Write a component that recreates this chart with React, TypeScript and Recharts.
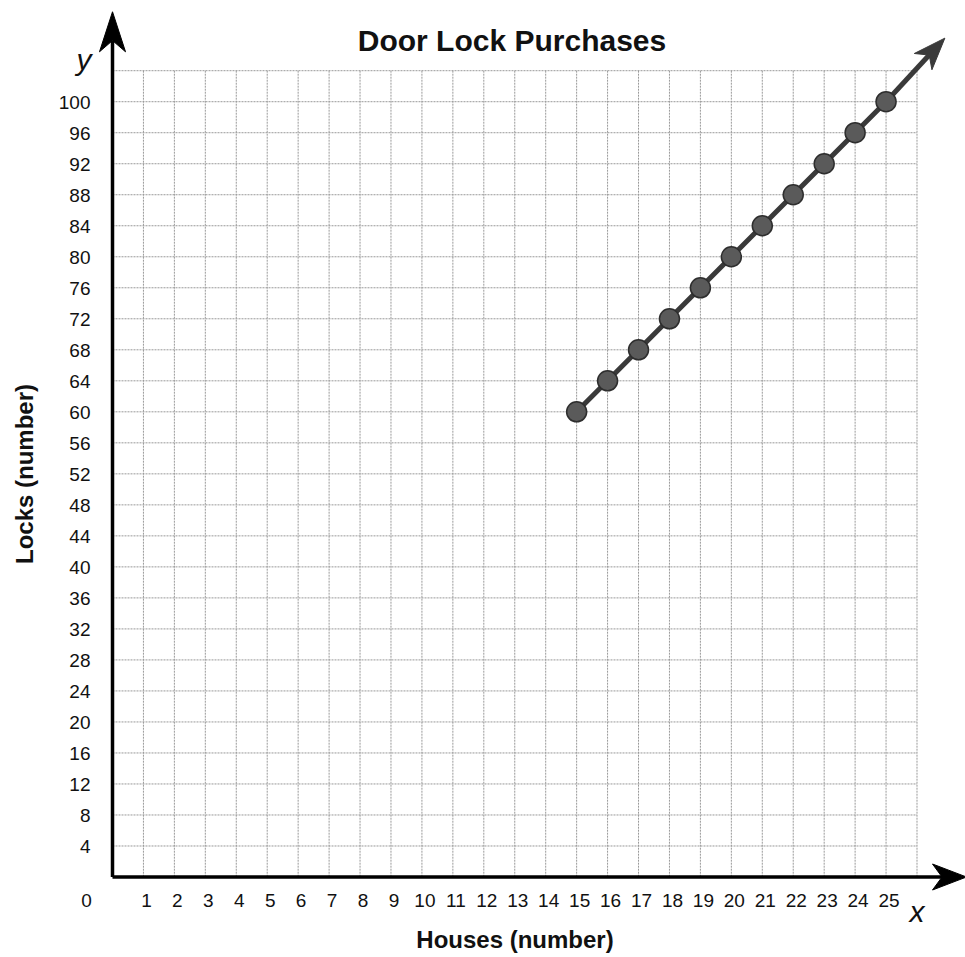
import React from 'react';
import { ComposedChart, Line, XAxis, YAxis, CartesianGrid, ReferenceLine, Customized } from 'recharts';

const houses = [15, 16, 17, 18, 19, 20, 21, 22, 23, 24, 25];
const locks = [60, 64, 68, 72, 76, 80, 84, 88, 92, 96, 100];
const xTicks = [0, 1, 2, 3, 4, 5, 6, 7, 8, 9, 10, 11, 12, 13, 14, 15, 16, 17, 18, 19, 20, 21, 22, 23, 24, 25, 26];
const yTicks = [0, 4, 8, 12, 16, 20, 24, 28, 32, 36, 40, 44, 48, 52, 56, 60, 64, 68, 72, 76, 80, 84, 88, 92, 96, 100, 104];
const hiddenXTicks = [26];
const hiddenYTicks = [0, 104];
const chartTitle = 'Door Lock Purchases';
const xAxisTitle = 'Houses (number)';
const yAxisTitle = 'Locks (number)';
const xVarName = 'x';
const yVarName = 'y';
const lineArrowEnd = { x: 26.9, y: 108.2 };
const xAxisEnd = 27.6;
const yAxisEnd = 111.6;

const data = houses.map((h, i) => ({ x: h, y: locks[i] }));

const FONT = '"Liberation Sans", Arial, Helvetica, sans-serif';

const arrowShape = (width: number, L: number, W: number, color: string) => (props: any) => {
  const { x1, y1, x2, y2 } = props;
  const dx = x2 - x1;
  const dy = y2 - y1;
  const len = Math.hypot(dx, dy) || 1;
  const ux = dx / len;
  const uy = dy / len;
  const nx = -uy;
  const ny = ux;
  const bx = x2 - ux * L;
  const by = y2 - uy * L;
  const kx = x2 - ux * L * 0.72;
  const ky = y2 - uy * L * 0.72;
  const d = `M${x2},${y2} L${bx + (nx * W) / 2},${by + (ny * W) / 2} L${kx},${ky} L${bx - (nx * W) / 2},${by - (ny * W) / 2} Z`;
  return (
    <g>
      <line x1={x1} y1={y1} x2={kx} y2={ky} stroke={color} strokeWidth={width} />
      <path d={d} fill={color} stroke={color} strokeWidth={1} strokeLinejoin="miter" />
    </g>
  );
};

const XTick = (props: any) => {
  const { x, y, payload } = props;
  if (hiddenXTicks.includes(payload.value)) return <g />;
  const shift = payload.value === 0 ? -26 : 3;
  return (
    <text x={x + shift} y={y + 30} textAnchor="middle" fontSize={19} fontFamily={FONT} fill="#111">
      {payload.value}
    </text>
  );
};

const YTick = (props: any) => {
  const { x, y, payload } = props;
  if (hiddenYTicks.includes(payload.value)) return <g />;
  return (
    <text x={x - 22} y={y} dy="0.36em" textAnchor="end" fontSize={19} fontFamily={FONT} fill="#111">
      {payload.value}
    </text>
  );
};

const Texts = () => (
  <g fontFamily={FONT} fill="#111">
    <text x={512} y={51} textAnchor="middle" fontSize={30} fontWeight="bold">{chartTitle}</text>
    <text x={515} y={948} textAnchor="middle" fontSize={24} fontWeight="bold">{xAxisTitle}</text>
    <text x={0} y={0} transform="translate(33,474) rotate(-90)" textAnchor="middle" fontSize={24} fontWeight="bold">{yAxisTitle}</text>
    <text x={84} y={70} textAnchor="middle" fontSize={30} fontStyle="italic">{yVarName}</text>
    <text x={917} y={922} textAnchor="middle" fontSize={30} fontStyle="italic">{xVarName}</text>
  </g>
);

export default function App() {
  return (
    <div style={{ position: 'absolute', left: 0, top: 0, width: 965, height: 957, background: '#fff' }}>
      <ComposedChart
        width={965}
        height={957}
        data={data}
        margin={{ top: 70.7, left: 111.5, right: 48, bottom: 79 }}
      >
        <CartesianGrid stroke="#999" strokeDasharray="2 1" strokeWidth={1} />
        <XAxis
          type="number"
          dataKey="x"
          domain={[0, 26]}
          ticks={xTicks}
          allowDataOverflow
          axisLine={false}
          tickLine={false}
          tickSize={0}
          tickMargin={0}
          height={1}
          interval={0}
          tick={<XTick />}
        />
        <YAxis
          type="number"
          domain={[0, 104]}
          ticks={yTicks}
          allowDataOverflow
          axisLine={false}
          tickLine={false}
          tickSize={0}
          tickMargin={0}
          width={1}
          interval={0}
          tick={<YTick />}
        />
        <ReferenceLine
          segment={[{ x: 0, y: 0 }, { x: xAxisEnd, y: 0 }]}
          ifOverflow="visible"
          shape={arrowShape(3.5, 34, 26, '#000')}
        />
        <ReferenceLine
          segment={[{ x: 0, y: 0 }, { x: 0, y: yAxisEnd }]}
          ifOverflow="visible"
          shape={arrowShape(3.5, 40, 26, '#000')}
        />
        <ReferenceLine
          segment={[{ x: houses[houses.length - 1], y: locks[locks.length - 1] }, lineArrowEnd]}
          ifOverflow="visible"
          shape={arrowShape(5, 32, 24, '#3a3a3a')}
        />
        <Line
          dataKey="y"
          stroke="#3a3a3a"
          strokeWidth={5}
          isAnimationActive={false}
          dot={{ r: 10, fill: '#5a5a5a', stroke: '#2e2e2e', strokeWidth: 1.5 }}
          activeDot={false}
        />
        <Customized component={Texts} />
      </ComposedChart>
    </div>
  );
}
